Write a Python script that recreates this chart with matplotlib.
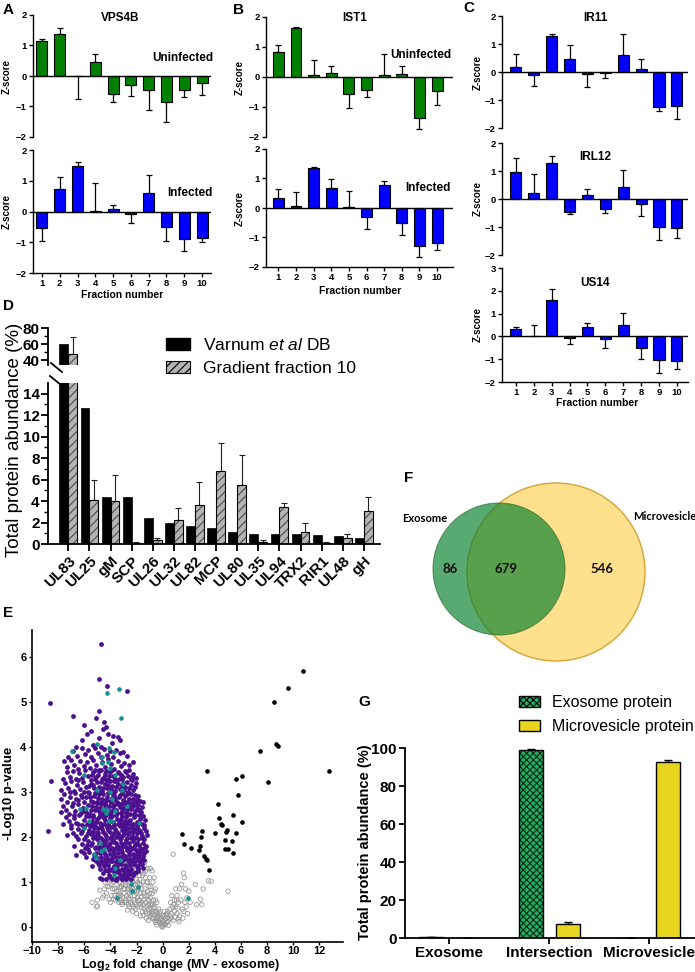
import numpy as np
import matplotlib.pyplot as plt
import matplotlib.patches as mpatches

plt.rcParams['font.family'] = ['Liberation Sans', 'DejaVu Sans']
plt.rcParams['mathtext.fontset'] = 'custom'
plt.rcParams['mathtext.rm'] = 'Liberation Sans'
plt.rcParams['mathtext.it'] = 'Liberation Sans:italic'
plt.rcParams['mathtext.bf'] = 'Liberation Sans:bold'
plt.rcParams['hatch.linewidth'] = 0.8

# ---------------- data ----------------
fractions = np.arange(1, 11)

vps4b_unin = [1.15, 1.38, -0.01, 0.45, -0.6, -0.3, -0.45, -0.85, -0.45, -0.22]
vps4b_unin_sd = [0.05, 0.19, 0.76, 0.27, 0.25, 0.35, 0.67, 0.65, 0.25, 0.40]
vps4b_inf = [-0.55, 0.73, 1.47, 0.03, 0.07, -0.08, 0.6, -0.5, -0.9, -0.85]
vps4b_inf_sd = [0.42, 0.40, 0.13, 0.89, 0.13, 0.29, 0.58, 0.45, 0.38, 0.13]

ist1_unin = [0.83, 1.62, 0.07, 0.13, -0.58, -0.45, 0.05, 0.1, -1.37, -0.47]
ist1_unin_sd = [0.22, 0.03, 0.48, 0.22, 0.44, 0.23, 0.72, 0.27, 0.38, 0.45]
ist1_inf = [0.35, 0.07, 1.35, 0.68, 0.02, -0.3, 0.77, -0.5, -1.3, -1.2]
ist1_inf_sd = [0.28, 0.46, 0.05, 0.30, 0.55, 0.42, 0.15, 0.43, 0.35, 0.22]

ir11 = [0.17, -0.1, 1.3, 0.48, -0.07, -0.02, 0.6, 0.1, -1.25, -1.2]
ir11_sd = [0.46, 0.40, 0.07, 0.49, 0.48, 0.18, 0.77, 0.38, 0.15, 0.48]
irl12 = [0.95, 0.2, 1.3, -0.45, 0.15, -0.35, 0.42, -0.17, -1.0, -1.05]
irl12_sd = [0.53, 0.68, 0.25, 0.07, 0.20, 0.15, 0.63, 0.43, 0.48, 0.35]
us14 = [0.32, 0.02, 1.58, -0.05, 0.4, -0.1, 0.48, -0.5, -1.05, -1.1]
us14_sd = [0.10, 0.46, 0.50, 0.27, 0.20, 0.42, 0.55, 0.47, 0.55, 0.35]

proteins = ["UL83", "UL25", "gM", "SCP", "UL26", "UL32", "UL82", "MCP", "UL80",
            "UL35", "UL94", "TRX2", "RIR1", "UL48", "gH"]
varnum_db = [60, 12.7, 4.4, 4.4, 2.4, 1.95, 1.65, 1.45, 1.1, 0.95, 0.95, 0.95, 0.85, 0.75, 0.55]
fraction10 = [47, 4.1, 4.05, 0.1, 0.4, 2.2, 3.65, 6.8, 5.5, 0.2, 3.45, 1.1, 0.08, 0.6, 3.1]
fraction10_sd = [22, 1.85, 2.35, 0.1, 0.15, 1.15, 2.15, 2.6, 2.75, 0.15, 0.4, 0.85, 0.07, 0.35, 1.3]

# volcano plot points (log2 fold change, -log10 p)
sig_mv = [(10.73, 5.69), (9.57, 5.32), (8.51, 4.99), (8.71, 4.06), (8.81, 4.03), (7.45, 3.91),
          (8.08, 3.22), (12.76, 3.47), (3.40, 3.46), (5.63, 3.30), (6.08, 3.36), (5.80, 2.94),
          (4.21, 2.74), (4.34, 2.42), (4.46, 2.30), (4.54, 2.26), (5.37, 2.49), (6.08, 2.33),
          (3.98, 2.10), (3.0, 2.13), (2.9, 2.0), (1.5, 2.07), (1.66, 1.85), (2.14, 1.75),
          (2.87, 1.81), (2.79, 1.72), (4.84, 2.11), (4.92, 2.16), (4.77, 1.93), (4.79, 1.74),
          (4.97, 1.74), (5.27, 1.91), (5.60, 2.10), (5.42, 1.65), (3.20, 1.57), (3.33, 1.52),
          (3.40, 1.50), (3.53, 1.26)]

sig_exo = [(-4.72, 6.28), (-4.89, 5.52), (-4.26, 5.36), (-2.74, 5.25), (-8.61, 4.98), (-4.84, 4.81),
           (-6.89, 4.68), (-5.07, 4.64), (-6.03, 4.50), (-8.58, 3.24), (-8.74, 2.13),
           (-4.5, 4.55), (-4.3, 4.45), (-5.5, 4.35), (-4.6, 4.4), (-3.8, 4.25), (-4.9, 4.2),
           (-3.4, 4.22), (-5.8, 4.3), (-4.2, 4.3), (-6.2, 4.15), (-3.9, 4.1), (-5.3, 4.05),
           (-4.7, 4.0), (-6.6, 4.0), (-3.3, 4.15),
           (-7.25, 3.78), (-6.85, 3.92), (-6.55, 3.81), (-6.2, 3.97), (-5.95, 3.84), (-5.7, 3.93),
           (-5.45, 3.79), (-5.2, 3.98), (-4.95, 3.86), (-4.72, 3.77), (-4.5, 3.95), (-4.28, 3.83),
           (-4.05, 3.91), (-3.8, 3.79), (-3.55, 3.94), (-3.3, 3.86), (-3.0, 3.9), (-2.7, 3.8),
           (-7.55, 3.68), (-7.3, 3.55), (-7.05, 3.71), (-6.8, 3.6), (-6.5, 3.52), (-6.3, 3.7),
           (-6.05, 3.58), (-5.8, 3.66), (-5.55, 3.53), (-5.35, 3.72), (-5.1, 3.61), (-4.88, 3.5),
           (-4.65, 3.67), (-4.4, 3.56), (-4.15, 3.74), (-3.95, 3.62), (-3.7, 3.51), (-3.45, 3.69),
           (-3.2, 3.57), (-2.95, 3.65), (-2.6, 3.6), (-2.25, 3.66),
           (-7.6, 3.3), (-7.35, 3.45), (-7.1, 3.34), (-6.9, 3.47), (-6.6, 3.28), (-6.4, 3.42),
           (-6.15, 3.31), (-5.95, 3.48), (-5.72, 3.36), (-5.5, 3.26), (-5.3, 3.44), (-5.08, 3.33),
           (-4.85, 3.46), (-4.62, 3.29), (-4.42, 3.4), (-4.2, 3.27), (-4.0, 3.45), (-3.78, 3.35),
           (-3.55, 3.25), (-3.35, 3.43), (-3.12, 3.3), (-2.9, 3.47), (-2.68, 3.36), (-2.45, 3.28),
           (-2.25, 3.41), (-2.05, 3.32),
           (-7.75, 3.05), (-7.5, 3.2), (-7.25, 3.1), (-7.0, 3.24), (-6.78, 3.02), (-6.55, 3.16),
           (-6.35, 3.07), (-6.12, 3.22), (-5.9, 3.11), (-5.68, 3.01), (-5.48, 3.19), (-5.25, 3.08),
           (-5.05, 3.23), (-4.85, 3.12), (-4.65, 3.03), (-4.45, 3.18), (-4.25, 3.09), (-4.05, 3.24),
           (-3.85, 3.13), (-3.65, 3.02), (-3.45, 3.17), (-3.25, 3.06), (-3.05, 3.21), (-2.85, 3.11),
           (-2.65, 3.0), (-2.45, 3.15), (-2.25, 3.05), (-2.05, 3.2), (-5.6, 3.14), (-4.0, 3.0),
           (-7.8, 2.85), (-7.55, 2.95), (-7.35, 2.78), (-7.1, 2.9), (-6.9, 2.76), (-6.7, 2.97),
           (-6.48, 2.83), (-6.28, 2.93), (-6.05, 2.77), (-5.85, 2.88), (-5.65, 2.98), (-5.45, 2.8),
           (-5.25, 2.92), (-5.05, 2.79), (-4.85, 2.96), (-4.65, 2.84), (-4.45, 2.75), (-4.25, 2.9),
           (-4.05, 2.81), (-3.85, 2.99), (-3.65, 2.86), (-3.45, 2.76), (-3.25, 2.94), (-3.05, 2.82),
           (-2.85, 2.91), (-2.65, 2.78), (-2.45, 2.96), (-2.25, 2.85), (-2.05, 2.77), (-1.85, 2.92),
           (-1.48, 2.78), (-3.9, 2.87),
           (-7.8, 2.55), (-7.6, 2.7), (-7.38, 2.6), (-7.15, 2.52), (-6.95, 2.68), (-6.72, 2.58),
           (-6.5, 2.73), (-6.3, 2.51), (-6.1, 2.64), (-5.9, 2.56), (-5.7, 2.71), (-5.5, 2.6),
           (-5.3, 2.5), (-5.1, 2.67), (-4.9, 2.57), (-4.7, 2.74), (-4.5, 2.62), (-4.3, 2.53),
           (-4.1, 2.69), (-3.9, 2.59), (-3.7, 2.72), (-3.5, 2.54), (-3.3, 2.66), (-3.1, 2.57),
           (-2.9, 2.73), (-2.7, 2.61), (-2.5, 2.52), (-2.3, 2.68), (-2.1, 2.58), (-1.9, 2.71),
           (-1.65, 2.55), (-4.8, 2.51), (-3.2, 2.74), (-2.0, 2.63),
           (-7.6, 2.3), (-7.4, 2.45), (-7.2, 2.35), (-7.0, 2.27), (-6.8, 2.42), (-6.6, 2.32),
           (-6.4, 2.48), (-6.2, 2.26), (-6.0, 2.39), (-5.8, 2.29), (-5.6, 2.46), (-5.4, 2.36),
           (-5.2, 2.25), (-5.0, 2.41), (-4.8, 2.31), (-4.6, 2.47), (-4.4, 2.37), (-4.2, 2.27),
           (-4.0, 2.43), (-3.8, 2.33), (-3.6, 2.49), (-3.4, 2.28), (-3.2, 2.4), (-3.0, 2.3),
           (-2.8, 2.45), (-2.6, 2.35), (-2.4, 2.26), (-2.2, 2.44), (-2.0, 2.34), (-1.8, 2.48),
           (-1.6, 2.29), (-1.35, 2.38), (-4.5, 2.28), (-3.1, 2.47), (-2.7, 2.28), (-5.3, 2.45),
           (-7.3, 2.05), (-7.05, 2.2), (-6.85, 2.1), (-6.65, 2.02), (-6.45, 2.18), (-6.25, 2.08),
           (-6.05, 2.23), (-5.85, 2.03), (-5.65, 2.15), (-5.45, 2.06), (-5.25, 2.21), (-5.05, 2.11),
           (-4.85, 2.01), (-4.65, 2.17), (-4.45, 2.07), (-4.25, 2.22), (-4.05, 2.12), (-3.85, 2.02),
           (-3.65, 2.19), (-3.45, 2.09), (-3.25, 2.24), (-3.05, 2.04), (-2.85, 2.16), (-2.65, 2.06),
           (-2.45, 2.21), (-2.25, 2.11), (-2.05, 2.01), (-1.85, 2.18), (-1.65, 2.08), (-1.4, 2.2),
           (-1.22, 2.05), (-3.55, 2.0), (-2.95, 2.23), (-4.95, 2.2), (-2.35, 2.02), (-1.95, 2.1),
           (-6.8, 1.8), (-6.5, 1.95), (-6.2, 1.85), (-5.95, 1.76), (-5.72, 1.92), (-5.5, 1.82),
           (-5.3, 1.97), (-5.1, 1.78), (-4.9, 1.88), (-4.7, 1.99), (-4.5, 1.8), (-4.3, 1.93),
           (-4.1, 1.83), (-3.9, 1.75), (-3.7, 1.9), (-3.5, 1.81), (-3.3, 1.96), (-3.1, 1.77),
           (-2.9, 1.87), (-2.7, 1.98), (-2.5, 1.79), (-2.3, 1.91), (-2.1, 1.82), (-1.9, 1.95),
           (-1.7, 1.76), (-1.5, 1.88), (-1.25, 1.8), (-4.0, 1.97), (-3.6, 1.76), (-2.8, 1.79),
           (-2.2, 1.99), (-1.6, 1.97), (-3.2, 1.86), (-4.6, 1.86),
           (-6.6, 1.6), (-6.25, 1.7), (-5.9, 1.55), (-5.6, 1.67), (-5.35, 1.52), (-5.1, 1.64),
           (-4.9, 1.73), (-4.7, 1.56), (-4.5, 1.68), (-4.3, 1.58), (-4.1, 1.72), (-3.9, 1.53),
           (-3.7, 1.65), (-3.5, 1.74), (-3.3, 1.55), (-3.1, 1.67), (-2.9, 1.57), (-2.7, 1.71),
           (-2.5, 1.51), (-2.3, 1.63), (-2.1, 1.73), (-1.9, 1.54), (-1.7, 1.66), (-1.5, 1.58),
           (-1.28, 1.7), (-3.8, 1.62), (-2.6, 1.6), (-2.0, 1.62), (-1.6, 1.73), (-4.4, 1.51),
           (-5.4, 1.35), (-5.0, 1.45), (-4.8, 1.3), (-4.6, 1.42), (-4.4, 1.27), (-4.2, 1.38),
           (-4.0, 1.48), (-3.8, 1.32), (-3.6, 1.44), (-3.4, 1.28), (-3.2, 1.4), (-3.0, 1.49),
           (-2.8, 1.33), (-2.6, 1.45), (-2.4, 1.3), (-2.2, 1.41), (-2.0, 1.36), (-1.8, 1.47),
           (-1.6, 1.4), (-1.4, 1.49), (-3.9, 1.46), (-3.1, 1.3), (-2.5, 1.38), (-2.1, 1.48),
           (-4.5, 1.35), (-3.5, 1.35),
           (-4.8, 1.1), (-4.55, 1.2), (-4.3, 1.07), (-4.1, 1.16), (-3.9, 1.08), (-3.7, 1.22),
           (-3.5, 1.1), (-3.3, 1.18), (-3.1, 1.06), (-2.9, 1.21), (-2.7, 1.12), (-2.5, 1.24),
           (-2.3, 1.15), (-2.05, 1.22), (-4.2, 1.24), (-3.0, 1.13),
           # denser core
           (-5.4, 3.38), (-5.18, 3.49), (-4.95, 3.37), (-4.72, 3.5), (-4.52, 3.34), (-4.3, 3.47),
           (-4.1, 3.36), (-3.9, 3.49), (-3.66, 3.3), (-3.45, 3.45), (-3.22, 3.37), (-3.0, 3.34),
           (-2.78, 3.44), (-2.55, 3.49), (-2.35, 3.34),
           (-5.35, 3.15), (-5.15, 3.28), (-4.95, 3.04), (-4.75, 3.22), (-4.55, 3.1), (-4.35, 3.27),
           (-4.15, 3.15), (-3.95, 3.06), (-3.75, 3.24), (-3.55, 3.12), (-3.35, 3.28), (-3.15, 3.14),
           (-2.95, 3.04), (-2.75, 3.22), (-2.55, 3.08), (-2.35, 3.27), (-2.15, 3.12), (-6.0, 3.0),
           (-6.5, 3.26), (-7.1, 3.0),
           (-5.55, 2.9), (-5.35, 2.77), (-5.15, 2.99), (-4.95, 2.86), (-4.75, 2.78), (-4.55, 2.95),
           (-4.35, 2.82), (-4.15, 2.99), (-3.95, 2.78), (-3.75, 2.93), (-3.55, 2.81), (-3.35, 2.88),
           (-3.15, 2.99), (-2.95, 2.8), (-2.75, 2.95), (-2.55, 2.84), (-2.35, 2.76), (-2.15, 2.94),
           (-1.95, 2.85), (-1.7, 2.8), (-6.15, 2.9), (-6.6, 2.84),
           (-5.6, 2.52), (-5.4, 2.7), (-5.2, 2.6), (-5.0, 2.75), (-4.8, 2.65), (-4.6, 2.53),
           (-4.4, 2.71), (-4.2, 2.6), (-4.0, 2.51), (-3.8, 2.67), (-3.6, 2.6), (-3.4, 2.74),
           (-3.2, 2.54), (-3.0, 2.64), (-2.8, 2.53), (-2.6, 2.7), (-2.4, 2.62), (-2.2, 2.52),
           (-2.0, 2.72), (-1.8, 2.6), (-1.55, 2.66), (-6.2, 2.55), (-6.8, 2.5),
           (-5.5, 2.3), (-5.3, 2.27), (-5.1, 2.34), (-4.9, 2.44), (-4.7, 2.26), (-4.5, 2.42),
           (-4.3, 2.48), (-4.1, 2.33), (-3.9, 2.46), (-3.7, 2.27), (-3.5, 2.4), (-3.3, 2.34),
           (-3.15, 2.26), (-2.9, 2.36), (-2.7, 2.48), (-2.5, 2.39), (-2.3, 2.3), (-2.1, 2.49),
           (-1.9, 2.29), (-1.7, 2.4), (-1.5, 2.47), (-1.45, 2.27), (-6.5, 2.3), (-5.9, 2.47),
           (-5.55, 2.24), (-5.35, 2.12), (-5.15, 2.02), (-4.95, 2.08), (-4.75, 2.22), (-4.55, 2.12),
           (-4.35, 2.02), (-4.15, 2.16), (-3.95, 2.23), (-3.75, 2.08), (-3.55, 2.14), (-3.35, 2.03),
           (-3.15, 2.15), (-2.95, 2.09), (-2.75, 2.21), (-2.55, 2.12), (-2.35, 2.24), (-2.15, 2.17),
           (-1.95, 2.24), (-1.75, 2.13), (-1.55, 2.02), (-1.3, 2.14), (-6.15, 2.13), (-5.75, 2.09),
           (-5.4, 1.88), (-5.2, 1.76), (-5.0, 1.95), (-4.8, 1.79), (-4.6, 1.93), (-4.4, 1.88),
           (-4.2, 1.77), (-4.0, 1.86), (-3.8, 1.94), (-3.6, 1.87), (-3.4, 1.78), (-3.2, 1.98),
           (-3.0, 1.83), (-2.8, 1.93), (-2.6, 1.86), (-2.4, 1.98), (-2.2, 1.78), (-2.0, 1.88),
           (-1.8, 1.82), (-1.4, 1.95), (-1.35, 1.77), (-5.8, 1.83), (-6.05, 1.96),
           (-5.25, 1.6), (-5.0, 1.54), (-4.8, 1.65), (-4.6, 1.74), (-4.4, 1.63), (-4.2, 1.52),
           (-4.0, 1.62), (-3.8, 1.72), (-3.6, 1.56), (-3.4, 1.64), (-3.2, 1.72), (-3.0, 1.6),
           (-2.8, 1.52), (-2.6, 1.68), (-2.4, 1.74), (-2.2, 1.55), (-2.0, 1.7), (-1.8, 1.6),
           (-1.6, 1.52), (-1.4, 1.64), (-5.7, 1.74), (-6.0, 1.64),
           (-4.9, 1.38), (-4.7, 1.48), (-4.3, 1.45), (-4.1, 1.3), (-3.7, 1.36), (-3.5, 1.48),
           (-3.3, 1.42), (-2.9, 1.38), (-2.7, 1.28), (-2.3, 1.47), (-1.9, 1.32), (-1.7, 1.4),
           (-1.5, 1.32), (-5.2, 1.5), (-3.0, 1.26), (-4.0, 1.26),
           (-4.65, 1.08), (-4.0, 1.12), (-3.6, 1.05), (-3.2, 1.12), (-2.8, 1.06), (-2.6, 1.17),
           (-2.4, 1.08), (-2.2, 1.2), (-3.4, 1.22), (-1.9, 1.25)]

viral_pts = [(-3.32, 5.30), (-4.29, 5.19), (-3.22, 4.65), (-6.92, 3.91), (-5.02, 4.07), (-4.13, 3.99),
             (-3.75, 3.89), (-4.64, 3.79), (-4.64, 3.64), (-4.18, 3.67), (-4.01, 3.54), (-6.03, 3.39),
             (-3.63, 3.39), (-3.0, 3.19), (-3.12, 3.04), (-5.02, 3.05), (-4.01, 3.0), (-3.88, 2.85),
             (-6.36, 2.63), (-5.9, 2.65), (-4.59, 2.63), (-4.26, 2.61), (-4.34, 2.53), (-4.13, 2.36),
             (-3.88, 2.36), (-3.63, 2.59), (-5.65, 2.36), (-6.03, 2.21), (-1.81, 2.31), (-2.74, 2.68),
             (-4.77, 1.87), (-4.51, 1.74), (-5.27, 1.63), (-5.07, 1.54), (-4.72, 1.70), (-3.25, 1.50),
             (-3.63, 1.32), (-3.75, 1.15), (-2.41, 0.96), (-2.31, 0.80), (-1.91, 0.89), (-3.50, 0.64),
             (1.93, 0.64)]

not_sig = [(0.0, 0.02), (-0.1, 0.05), (0.1, 0.04), (-0.2, 0.08), (0.2, 0.06), (-0.3, 0.12),
           (0.3, 0.1), (-0.4, 0.15), (0.4, 0.12), (-0.5, 0.2), (0.5, 0.18), (-0.15, 0.18),
           (0.15, 0.15), (-0.35, 0.25), (0.35, 0.22), (-0.6, 0.28), (0.6, 0.25), (-0.7, 0.35),
           (0.7, 0.3), (-0.25, 0.3), (0.25, 0.28), (-0.05, 0.1), (0.05, 0.12), (-0.45, 0.05),
           (0.45, 0.04), (-0.8, 0.2), (0.8, 0.15), (-0.9, 0.42), (0.9, 0.35),
           (-1.0, 0.3), (-1.1, 0.5), (-1.2, 0.7), (-1.05, 0.9), (-1.3, 1.1), (-1.15, 1.3),
           (-1.4, 0.4), (-1.45, 0.6), (-1.35, 0.85), (-1.25, 0.2), (-1.5, 1.0), (-1.1, 0.15),
           (-1.4, 1.35), (-1.2, 0.45),
           (-1.55, 0.35), (-1.6, 0.55), (-1.7, 0.75), (-1.65, 0.95), (-1.8, 1.15), (-1.75, 1.4),
           (-1.9, 0.45), (-1.95, 0.65), (-1.85, 0.85), (-2.0, 1.05), (-1.6, 1.25), (-1.7, 0.25),
           (-1.9, 1.5), (-1.55, 1.55), (-2.0, 0.3),
           (-2.1, 0.4), (-2.2, 0.6), (-2.15, 0.8), (-2.3, 1.0), (-2.25, 1.2), (-2.4, 1.45),
           (-2.05, 1.35), (-2.35, 0.5), (-2.45, 0.7), (-2.4, 0.9), (-2.2, 1.58), (-2.5, 1.1),
           (-2.1, 0.95), (-2.3, 0.35), (-2.45, 1.3),
           (-2.55, 0.45), (-2.6, 0.65), (-2.7, 0.85), (-2.65, 1.05), (-2.8, 1.25), (-2.75, 1.48),
           (-2.9, 0.55), (-2.95, 0.75), (-2.85, 0.95), (-3.0, 1.15), (-2.6, 1.35), (-2.7, 0.38),
           (-2.9, 1.05), (-2.55, 0.9),
           (-3.1, 0.5), (-3.2, 0.7), (-3.15, 0.9), (-3.3, 1.0), (-3.25, 0.6), (-3.4, 0.8),
           (-3.45, 1.05), (-3.05, 1.2), (-3.35, 0.55), (-3.5, 0.95), (-3.2, 1.1),
           (-3.6, 0.6), (-3.7, 0.85), (-3.8, 1.0), (-3.9, 0.7), (-4.0, 0.55), (-4.1, 0.9),
           (-4.2, 1.05), (-4.3, 0.75), (-3.75, 0.62), (-4.45, 0.85), (-4.6, 0.65),
           (-5.0, 0.6), (-5.05, 0.45), (-4.8, 0.82),
           (-0.6, 0.45), (-0.7, 0.6), (-0.8, 0.75), (-0.9, 0.9), (-0.55, 0.6), (-0.75, 1.0),
           (-0.85, 0.5), (-0.95, 0.65), (-0.65, 0.8), (-0.5, 0.35), (-1.0, 1.1), (-0.8, 1.25),
           (1.0, 0.45), (1.1, 0.3), (1.2, 0.55), (1.3, 0.25), (1.4, 0.6), (1.5, 0.4), (1.6, 0.35),
           (1.1, 0.7), (1.3, 0.85), (1.45, 0.95), (1.6, 1.2), (1.65, 1.1), (1.7, 0.55), (1.8, 0.45),
           (1.9, 0.3), (2.0, 0.8), (0.8, 1.62), (0.9, 0.6), (1.0, 0.85), (2.1, 0.55), (2.5, 0.95),
           (2.6, 0.5), (2.9, 0.62), (3.0, 0.5), (3.1, 0.85), (3.5, 1.03), (3.7, 1.02), (5.0, 0.8),
           (0.95, 0.22), (1.25, 0.12), (0.75, 0.45), (0.65, 0.2), (1.55, 0.2), (1.75, 0.85),
           (1.85, 0.65), (1.15, 0.42),
           (-0.55, 0.85), (-0.65, 1.1), (-0.7, 0.2), (-0.9, 0.25), (-0.95, 1.3), (-1.05, 0.6),
           (-1.15, 0.8), (-1.25, 1.0), (-1.3, 0.55), (-1.35, 1.45), (-1.45, 0.75), (-1.5, 0.25),
           (-1.55, 1.15), (-1.65, 0.45), (-1.75, 0.6), (-1.8, 0.95), (-1.85, 1.3), (-1.95, 0.8),
           (-2.05, 0.5), (-2.1, 1.2), (-2.15, 0.7), (-2.25, 0.45), (-2.3, 0.85), (-2.35, 1.1),
           (-2.45, 0.55), (-2.5, 1.4), (-2.55, 0.75), (-2.6, 1.0), (-2.65, 0.5), (-2.7, 1.2),
           (-2.75, 0.7), (-2.8, 1.0), (-2.85, 0.6), (-2.95, 1.3), (-3.0, 0.85), (-3.05, 0.65),
           (-3.1, 1.05), (-3.2, 0.9), (-3.3, 0.75), (-3.35, 1.2), (-3.45, 0.65), (-3.55, 0.8),
           (-3.6, 1.05), (-3.7, 0.7), (-3.85, 0.85), (-3.95, 0.95), (-4.1, 0.62), (-4.25, 0.9),
           (-4.4, 1.0), (-4.5, 0.7), (-1.2, 0.3), (-0.85, 0.35), (-0.6, 0.15), (-0.4, 0.3),
           (-0.3, 0.4), (-0.2, 0.25), (-0.1, 0.2), (0.0, 0.15), (0.1, 0.25), (0.2, 0.2),
           (0.3, 0.3), (0.4, 0.35), (0.55, 0.4), (0.6, 0.55), (0.7, 0.7), (0.85, 0.5),
           (1.05, 0.6), (1.2, 0.18), (-1.9, 1.0), (-2.2, 1.4), (-1.6, 0.85), (-2.4, 1.55),
           (-1.3, 1.25), (-1.0, 0.75), (-0.75, 0.5), (-5.4, 0.55), (-5.0, 0.47),
           (-0.05, 0.0), (-0.25, 0.1), (0.12, 0.08), (-0.38, 0.2), (-0.55, 0.1), (-0.68, 0.42),
           (-0.78, 0.3), (-0.95, 0.5), (-1.05, 0.4), (-1.12, 0.62), (-1.3, 0.35), (-1.38, 0.7),
           (-1.5, 0.5), (-1.62, 0.68), (-1.72, 0.5), (-1.88, 0.6), (-2.0, 0.75), (-2.12, 0.55),
           (-2.25, 0.95), (-2.38, 0.78), (-2.5, 0.62), (-2.62, 0.85), (-2.78, 0.55), (-2.9, 0.85),
           (-3.05, 0.95), (-3.15, 0.55), (-3.3, 0.88), (-3.4, 0.7), (-1.15, 1.0), (-1.45, 1.2),
           (-1.75, 1.05), (-2.05, 1.18), (-2.3, 1.3), (-0.45, 0.55), (-0.2, 0.35), (0.15, 0.35)]

venn_counts = [86, 679, 546]

groups = ["Exosome", "Intersection", "Microvesicle"]
exo_protein = [0.4, 99.0, 0.0]
exo_protein_sd = [0.3, 0.4, 0.0]
mv_protein = [0.0, 7.2, 92.5]
mv_protein_sd = [0.0, 1.3, 1.2]

# ---------------- layout helpers ----------------
W, H = 695, 972
fig = plt.figure(figsize=(W / 100, H / 100), dpi=100)


def box(l, t, r, b):
    return fig.add_axes([l / W, 1 - b / H, (r - l) / W, (b - t) / H])


def ftext(x, y, s, **kw):
    kw.setdefault('ha', 'center')
    kw.setdefault('va', 'center')
    fig.text(x / W, 1 - y / H, s, **kw)


def bold_ticks(ax, size):
    for lab in ax.get_xticklabels() + ax.get_yticklabels():
        lab.set_fontweight('bold')
        lab.set_fontsize(size)


def zpanel(ax, vals, sds, color, xlim, ylim=(-2, 2), bottom=False):
    vals = np.array(vals)
    sds = np.array(sds)
    ax.bar(fractions, vals, width=0.62, color=color, edgecolor='black', linewidth=0.8, zorder=2)
    lo = np.where(vals < 0, sds, 0)
    hi = np.where(vals >= 0, sds, 0)
    ax.errorbar(fractions, vals, yerr=[lo, hi], fmt='none', ecolor='black',
                elinewidth=0.9, capsize=2.5, capthick=0.9, zorder=1)
    ax.axhline(0, color='black', lw=1.0, zorder=3)
    ax.set_xlim(*xlim)
    ax.set_ylim(*ylim)
    ax.set_yticks(range(ylim[0], ylim[1] + 1))
    for s in ['top', 'right']:
        ax.spines[s].set_visible(False)
    ax.spines['left'].set_linewidth(1.0)
    ax.tick_params(width=1.0, length=3, pad=1.5)
    ax.tick_params(axis='x', pad=1)
    if bottom:
        ax.spines['bottom'].set_linewidth(1.0)
        ax.set_xticks(fractions)
    else:
        ax.spines['bottom'].set_visible(False)
        ax.set_xticks([])
    ax.patch.set_alpha(0)
    bold_ticks(ax, 6.8)


green = '#008000'
blue = '#0000FF'

# ---------------- panel A ----------------
a1 = box(33, 15, 211, 137)
zpanel(a1, vps4b_unin, vps4b_unin_sd, green, (0.5, 10.5))
a2 = box(33, 150, 211, 273)
zpanel(a2, vps4b_inf, vps4b_inf_sd, blue, (0.5, 10.5), bottom=True)
ftext(120, 18, "VPS4B", fontsize=8.5, fontweight='bold')
ftext(213, 58, "Uninfected", fontsize=8.5, fontweight='bold', ha='right')
ftext(213, 193, "Infected", fontsize=8.5, fontweight='bold', ha='right')
ftext(7, 76, "Z-score", fontsize=7, fontweight='bold', rotation=90)
ftext(7, 211, "Z-score", fontsize=7, fontweight='bold', rotation=90)
ftext(122, 295, "Fraction number", fontsize=7.5, fontweight='bold')

# ---------------- panel B ----------------
b1 = box(266, 17, 453, 137)
zpanel(b1, ist1_unin, ist1_unin_sd, green, (0.3, 10.9))
b2 = box(266, 149, 453, 267)
zpanel(b2, ist1_inf, ist1_inf_sd, blue, (0.3, 10.9), bottom=True)
ftext(355, 18, "IST1", fontsize=8.5, fontweight='bold')
ftext(451, 55, "Uninfected", fontsize=8.5, fontweight='bold', ha='right')
ftext(451, 188, "Infected", fontsize=8.5, fontweight='bold', ha='right')
ftext(240, 77, "Z-score", fontsize=7, fontweight='bold', rotation=90)
ftext(240, 208, "Z-score", fontsize=7, fontweight='bold', rotation=90)
ftext(360, 291, "Fraction number", fontsize=7.5, fontweight='bold')

# ---------------- panel C ----------------
c1 = box(502, 16, 688, 128)
zpanel(c1, ir11, ir11_sd, blue, (0.22, 10.62))
c2 = box(502, 143, 688, 255)
zpanel(c2, irl12, irl12_sd, blue, (0.22, 10.62))
c3 = box(502, 268, 688, 382)
zpanel(c3, us14, us14_sd, blue, (0.22, 10.62), ylim=(-2, 3), bottom=True)
ftext(595, 18, "IR11", fontsize=8.5, fontweight='bold')
ftext(595, 157, "IRL12", fontsize=8.5, fontweight='bold')
ftext(595, 283, "US14", fontsize=8.5, fontweight='bold')
for yc in [72, 199, 325]:
    ftext(478, yc, "Z-score", fontsize=7, fontweight='bold', rotation=90)
ftext(597, 403, "Fraction number", fontsize=7.5, fontweight='bold')

# ---------------- panel D ----------------
xd = np.arange(len(proteins))
d_up = box(48, 328, 380, 365)
d_lo = box(48, 383, 380, 544)
for ax in (d_up, d_lo):
    ax.bar(xd - 0.21, varnum_db, 0.42, color='black', edgecolor='black', lw=0.5, zorder=2)
    ax.bar(xd + 0.21, fraction10, 0.42, color='#b4b4b4', edgecolor='#4a4a4a', hatch='////', lw=0, zorder=2)
    ax.bar(xd + 0.21, fraction10, 0.42, fill=False, edgecolor='black', lw=0.8, zorder=3)
    ax.errorbar(xd + 0.21, fraction10, yerr=[np.zeros(len(xd)), fraction10_sd], fmt='none',
                ecolor='#222222', elinewidth=0.8, capsize=2, capthick=0.8, zorder=1)
    ax.set_xlim(-0.96, 14.76)
    for s in ['top', 'right']:
        ax.spines[s].set_visible(False)
    ax.spines['left'].set_linewidth(1.3)
    ax.tick_params(axis='y', width=1.3, length=5, pad=1)
    ax.tick_params(axis='y', which='minor', width=1.0, length=3)
    ax.patch.set_alpha(0)

d_up.set_ylim(33.75, 80)
d_up.set_yticks([40, 60, 80])
d_up.set_yticks([50, 70], minor=True)
d_up.spines['bottom'].set_visible(False)
d_up.set_xticks([])
bold_ticks(d_up, 11)

d_lo.set_ylim(0, 15)
d_lo.set_yticks(range(0, 15, 2))
d_lo.set_yticks(range(1, 15, 2), minor=True)
d_lo.spines['bottom'].set_linewidth(1.3)
d_lo.set_xticks(xd)
d_lo.set_xticklabels(proteins, rotation=45, ha='right', rotation_mode='anchor')
d_lo.tick_params(axis='x', width=1.3, length=5, pad=2)
bold_ticks(d_lo, 11)

# axis break marks
for (x0, y0, x1, y1) in [(51, 363, 62, 372), (50, 376, 61, 385)]:
    fig.add_artist(plt.Line2D([x0 / W, x1 / W], [1 - y0 / H, 1 - y1 / H], color='black', lw=1.3))

ftext(15, 440, "Total protein abundance (%)", fontsize=13.5, rotation=90)
d_handles = [mpatches.Patch(facecolor='black', edgecolor='black'),
             mpatches.Patch(facecolor='#b4b4b4', edgecolor='black', hatch='////', lw=0.8)]
d_up.legend(d_handles, ["Varnum $\\it{et\\ al}$ DB", "Gradient fraction 10"],
            loc='upper left', bbox_to_anchor=(166 / W, 1 - 337 / H), bbox_transform=fig.transFigure,
            frameon=False, fontsize=12.5, handlelength=1.4, handleheight=0.7,
            handletextpad=0.75, labelspacing=0.45, borderpad=0, borderaxespad=0)

# ---------------- panel E ----------------
e = box(32, 630, 343, 942)
nx, ny = zip(*not_sig)
e.scatter(nx, ny, s=10, facecolors='none', edgecolors='#9a9a9a', linewidths=0.6, zorder=1)
px, py = zip(*sig_exo)
e.scatter(px, py, s=12, color='#4b0f8f', linewidths=0, zorder=2)
vx, vy = zip(*viral_pts)
e.scatter(vx, vy, s=11, color='#168f8f', linewidths=0, zorder=3)
bx, by = zip(*sig_mv)
e.scatter(bx, by, s=11, color='black', linewidths=0, zorder=3)
e.set_xlim(-9.8, 13.8)
e.set_ylim(-0.33, 6.6)
e.set_xticks(range(-10, 13, 2))
e.set_yticks(range(0, 7))
for s in ['top', 'right']:
    e.spines[s].set_visible(False)
for s in ['left', 'bottom']:
    e.spines[s].set_linewidth(1.2)
e.tick_params(width=1.0, length=2, pad=1)
e.tick_params(axis='y', pad=2)
bold_ticks(e, 8)
ftext(181, 965, "Log$_\\mathbf{2}$ fold change (MV - exosome)", fontsize=9, fontweight='bold')
ftext(9, 793, "-Log10 p-value", fontsize=9.5, fontweight='bold', rotation=90)

# ---------------- panel F ----------------
v = box(380, 465, 695, 690)
v.set_xlim(380, 695)
v.set_ylim(690, 465)
v.axis('off')
v.add_patch(mpatches.Circle((556, 572), 89, facecolor='#FFE08C', edgecolor='#D4A437', lw=1.0))
v.add_patch(mpatches.Circle((499, 569), 66, facecolor='#0A8230', edgecolor='#2f6f30', alpha=0.68, lw=0.8))
for xx, cnt in zip([450, 506, 602], venn_counts):
    v.text(xx, 569, str(cnt), fontsize=9.5, fontweight='bold', ha='center', va='center',
           color='#111111', family=['Lato', 'DejaVu Sans'])
v.text(425, 518, "Exosome", fontsize=8, fontweight='bold', ha='center', va='center',
       family=['Lato', 'DejaVu Sans'])
v.text(665, 517, "Microvesicle", fontsize=8, fontweight='bold', ha='center', va='center',
       family=['Lato', 'DejaVu Sans'])

# ---------------- panel G ----------------
g = box(405, 748, 695, 938)
xg = np.arange(len(groups))
g.bar(xg - 0.18, exo_protein, 0.24, color='#1fb060', edgecolor='#0a2a14', hatch='xxxxx', lw=0, zorder=2)
g.bar(xg - 0.18, exo_protein, 0.24, fill=False, edgecolor='black', lw=1.0, zorder=3)
g.errorbar(xg - 0.18, exo_protein, yerr=[np.zeros(3), exo_protein_sd], fmt='none', ecolor='black',
           elinewidth=1.0, capsize=3, capthick=1.0, zorder=1)
g.bar(xg + 0.19, mv_protein, 0.24, color='#e8d520', edgecolor='black', lw=1.0, zorder=2)
g.errorbar(xg + 0.19, mv_protein, yerr=[np.zeros(3), mv_protein_sd], fmt='none', ecolor='black',
           elinewidth=1.0, capsize=3, capthick=1.0, zorder=1)
g.set_xlim(-0.44, 2.46)
g.set_ylim(0, 100)
g.set_yticks(range(0, 101, 20))
g.set_xticks(xg)
g.set_xticklabels(groups)
for s in ['top', 'right']:
    g.spines[s].set_visible(False)
for s in ['left', 'bottom']:
    g.spines[s].set_linewidth(1.3)
g.tick_params(width=1.3, length=4, pad=2)
bold_ticks(g, 11)
g.patch.set_alpha(0)
ftext(365, 842, "Total protein abundance (%)", fontsize=10.5, fontweight='bold', rotation=90)
g_handles = [mpatches.Patch(facecolor='#1fb060', edgecolor='black', hatch='xxxxx', lw=1.0),
             mpatches.Patch(facecolor='#e8d520', edgecolor='black', lw=1.0)]
g.legend(g_handles, ["Exosome protein", "Microvesicle protein"],
         loc='upper left', bbox_to_anchor=(519 / W, 1 - 695 / H), bbox_transform=fig.transFigure,
         frameon=False, fontsize=11.5, handlelength=1.3, handleheight=0.65,
         handletextpad=0.75, labelspacing=0.55, borderpad=0, borderaxespad=0)

# ---------------- panel letters ----------------
for lx, ly, lt in [(8, 10, "A"), (238, 10, "B"), (469, 8, "C"), (8, 306, "D"),
                   (8, 613, "E"), (409, 478, "F"), (364, 702, "G")]:
    ftext(lx, ly, lt, fontsize=11, fontweight='bold')

fig.savefig("out.png", dpi=100)
